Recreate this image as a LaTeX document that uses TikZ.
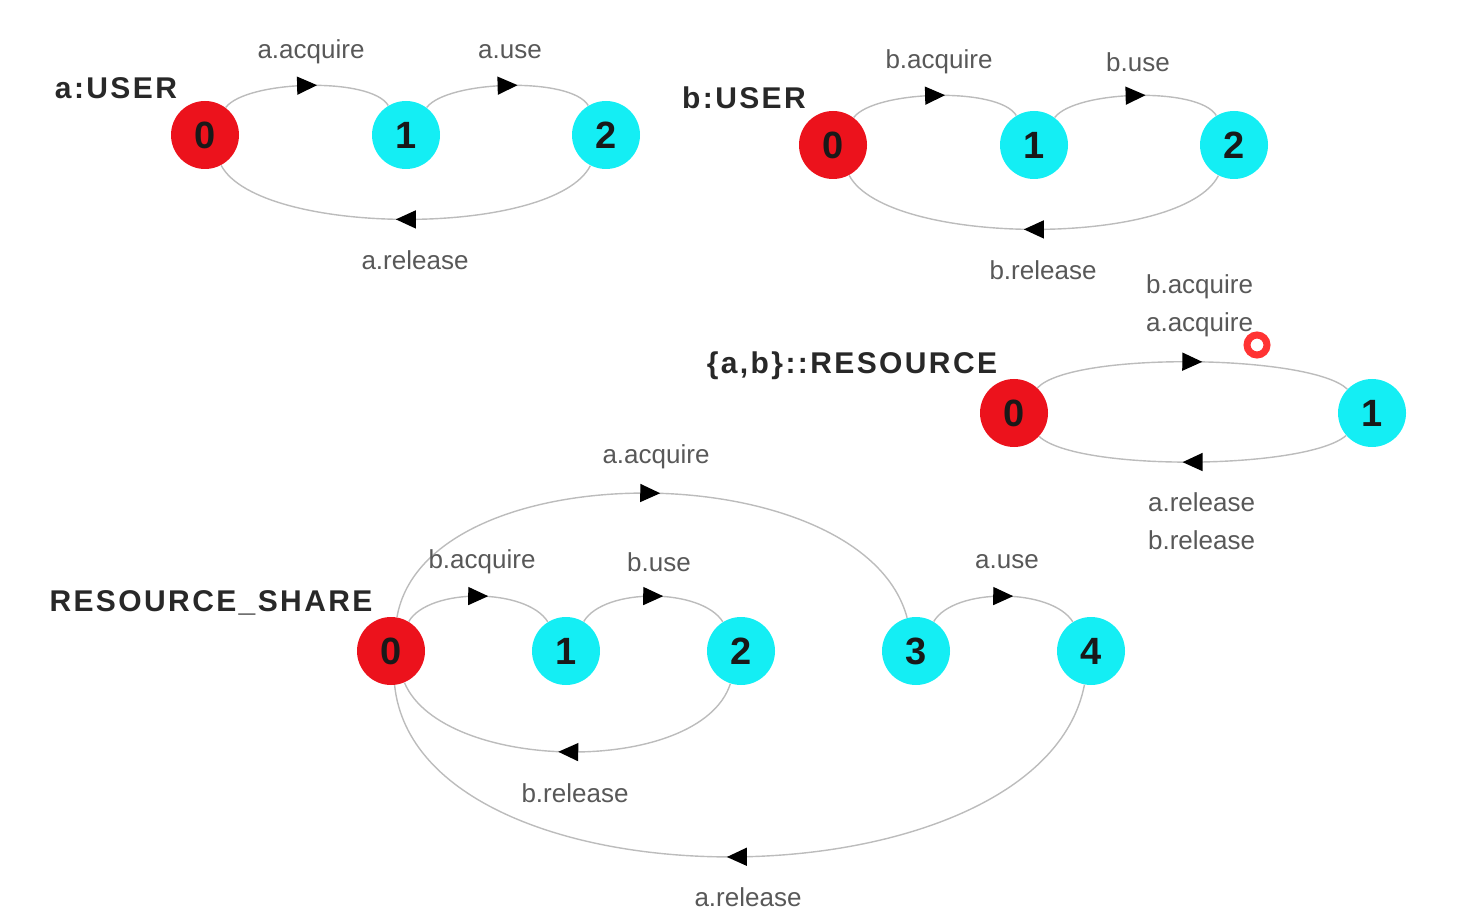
\documentclass[tikz,border=0pt]{standalone}
\usepackage{fontspec}
\setmainfont{Liberation Sans}
\newfontfamily\titlefont[LetterSpace=8]{Liberation Sans}
\usetikzlibrary{arrows.meta,decorations.markings}

\definecolor{statered}{RGB}{236,18,28}
\definecolor{statecyan}{RGB}{20,238,244}
\definecolor{edgegray}{RGB}{188,188,188}
\definecolor{labelgray}{RGB}{88,88,88}
\definecolor{titlegray}{RGB}{40,40,40}

\begin{document}
\begin{tikzpicture}[x=0.5pt,y=0.5pt,
    % Node styles
    state/.style={
        circle, fill=statecyan, minimum size=34pt, inner sep=0pt,
        font=\fontsize{19}{19}\selectfont\bfseries, text=black!90,
      },
    init state/.style={
        state, fill=statered,
      },
    % Transitions, arrow head half way along
    trans/.style={
        draw=edgegray, line width=0.7pt, postaction={decorate},
        decoration={markings, mark=at position 0.5 with
            {\arrow[xshift=5pt]{Triangle[length=10pt,width=9pt,color=black]}}},
      },
    act/.style={font=\fontsize{13}{19}\selectfont, text=labelgray},
    proc title/.style={font=\titlefont\bfseries\fontsize{15}{18}\selectfont, text=titlegray},
  ]
  \useasboundingbox (0,0) rectangle (1470,-924);

  % --- a:USER and b:USER ---
  \foreach \p/\dx/\dy in {a/0/0, b/628/10} {
      \begin{scope}[shift={(\dx,-\dy)}]
        \node[proc title] (\p ttl) at (116,-88) {\p:USER};
        \node[init state] (\p0) at (205,-135) {0};
        \node[state] (\p1) at (406,-135) {1};
        \node[state] (\p2) at (606,-135) {2};
        \draw[trans] (\p0) to[out=53,in=121,distance=17pt] (\p1);
        \draw[trans] (\p1) to[out=53,in=121,distance=17pt] (\p2);
        \draw[trans] (\p2) to[out=-117,in=-62,distance=40.5pt] (\p0);
        \node[act] (\p acq) at (311,-52) {\p.acquire};
        \node[act] (\p use) at (510,-52) {\p.use};
        \node[act] (\p rel) at (415,-260) {\p.release};
      \end{scope}
    }

  % --- {a,b}::RESOURCE ---
  \node[proc title] (rttl) at (852,-366) {\{a,b\}::RESOURCE};
  \node[init state] (r0) at (1014,-413) {0};
  \node[state] (r1) at (1372,-413) {1};
  \draw[trans] (r0) to[out=47,in=136,distance=25pt] (r1);
  \draw[trans] (r1) to[out=-139,in=-43,distance=26pt] (r0);
  \node[act, align=left, anchor=west] (racq) at (1139,-306) {b.acquire\\a.acquire};
  \node[act, align=left, anchor=west] (rrel) at (1141,-521) {a.release\\b.release};
  % pointer mark
  \draw[red!80, line width=3.5pt] (1257,-345) circle[radius=10];

  % --- RESOURCE_SHARE ---
  \node[proc title] (sttl) at (211,-603) {RESOURCE\_SHARE};
  \node[init state] (s0) at (391,-651) {0};
  \foreach \i in {1,...,4}
  \node[state] (s\i) at (391+175*\i,-651) {\i};
  \draw[trans] (s0) to[out=59,in=122,distance=20pt] (s1);
  \draw[trans] (s1) to[out=59,in=122,distance=20pt] (s2);
  \draw[trans] (s3) to[out=59,in=122,distance=20pt] (s4);
  \draw[trans] (s0) to[out=80,in=105,distance=85pt] (s3);
  \draw[trans] (s2) to[out=-108,in=-67,distance=49pt] (s0);
  \draw[trans] (s4) to[out=-101,in=-84,distance=116pt] (s0);
  \node[act] (saacq) at (656,-457) {a.acquire};
  \node[act] (sbacq) at (482,-562) {b.acquire};
  \node[act] (sbuse) at (659,-562) {b.use};
  \node[act] (sause) at (1007,-562) {a.use};
  \node[act] (sbrel) at (575,-793) {b.release};
  \node[act] (sarel) at (748,-897) {a.release};
\end{tikzpicture}
\end{document}
